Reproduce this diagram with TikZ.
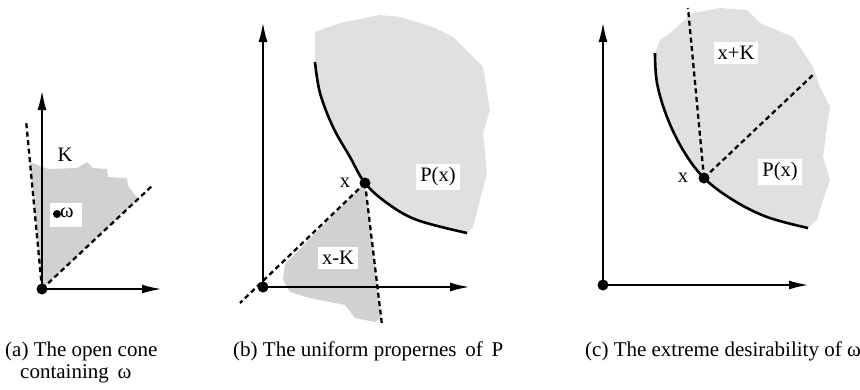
\documentclass[tikz,border=0pt]{standalone}
\usepackage{fontspec}
\setmainfont{Liberation Serif}
\usetikzlibrary{arrows.meta}
\begin{document}
\begin{tikzpicture}[x=1pt,y=-1pt,
  axis/.style={line width=2.4pt,-{Latex[length=20pt,width=9pt]}},
  dsh/.style={line width=2.3pt,dash pattern=on 5pt off 3.5pt},
  crv/.style={line width=2.6pt},
  dotp/.style={circle,fill=black,inner sep=0pt,minimum size=11pt},
  lbl/.style={font=\fontsize{20.5}{24}\selectfont,inner sep=0pt},
  wlbl/.style={lbl,fill=white,inner sep=4pt},
  captxt/.style={font=\fontsize{21}{25}\selectfont,inner sep=0pt,anchor=base west},
  shadeA/.style={fill=gray!36},
  shadeB/.style={fill=gray!24}]
\useasboundingbox (0,0) rectangle (860,389);
% ---------------- panel (a)
\coordinate (oa) at (42,289);
\coordinate (a1) at (26,120);
\coordinate (a2) at (153,185);
\fill[shadeA] (oa) -- (30,162) -- (48,169) -- (77,168) -- (87,162) -- (93,168) -- (107,169)
  -- (108,177) -- (127,178) -- (128,186) -- (138,199) -- cycle;
\node[wlbl,minimum width=32pt,minimum height=24pt] (wbox) at (66,215) {};
\node[lbl] (K) at (65,155) {K};
\node[dotp,minimum size=8pt] (om) at (57,214) {};
\node[lbl,anchor=west] (oml) at (60,213) {ω};
\draw[dsh] (oa) -- (a1);
\draw[dsh] (oa) -- (a2);
\coordinate (ay) at (42,90);
\coordinate (ax) at (162,289);
\draw[axis] (oa) -- (ay);
\draw[axis] (oa) -- (ax);
\node[dotp] (oad) at (oa) {};
% ---------------- panel (b)
\coordinate (ob) at (263,287);
\coordinate (xb) at (365,183);
\fill[shadeB] (315,32) -- (340,23) -- (380,15) -- (400,17) -- (433,27) -- (453,37) -- (483,67)
  -- (490,110) -- (483,133) -- (487,173) -- (480,200) -- (473,227) -- (467,233)
  -- (417,220) -- (387,203) -- (365,183) -- (350,157) -- (333,127) -- (320,93) -- (315,62) -- cycle;
\fill[shadeA] (xb) -- (285,264) -- (283,280) -- (290,292) -- (310,298) -- (345,305) -- (355,318)
  -- (375,322) -- (381,318) -- cycle;
\node[wlbl] (Pb) at (438,177) {P(x)};
\node[wlbl] (xKb) at (338,258) {x-K};
\draw[crv] plot[smooth,tension=0.6] coordinates {(315,62) (320,93) (333,127) (350,157) (365,183) (387,203) (417,220) (467,233)};
\coordinate (b1) at (240,303);
\coordinate (b2) at (382,325);
\draw[dsh] (xb) -- (b1);
\draw[dsh] (xb) -- (b2);
\coordinate (by) at (263,22);
\coordinate (bx) at (470,287);
\draw[axis] (ob) -- (by);
\draw[axis] (ob) -- (bx);
\node[dotp] (obd) at (ob) {};
\node[dotp] (xbd) at (xb) {};
\node[lbl] (xbl) at (345,183) {x};
% ---------------- panel (c)
\coordinate (oc) at (603,285);
\coordinate (xc) at (704,178);
\fill[shadeB] (660,40) -- (670,33) -- (693,13) -- (720,8) -- (747,10) -- (760,23) -- (793,37) -- (813,67)
  -- (820,87) -- (830,107) -- (827,127) -- (823,157) -- (830,180) -- (823,200) -- (817,220) -- (808,228)
  -- (767,217) -- (733,200) -- (704,178) -- (683,150) -- (667,117) -- (657,83) -- (655,53) -- cycle;
\node[wlbl] (xKc) at (736,53) {x+K};
\node[wlbl] (Pc) at (780,172) {P(x)};
\draw[crv] plot[smooth,tension=0.6] coordinates {(655,53) (657,83) (667,117) (683,150) (704,178) (733,200) (767,217) (808,228)};
\coordinate (c1) at (688,8);
\coordinate (c2) at (815,73);
\draw[dsh] (xc) -- (c1);
\draw[dsh] (xc) -- (c2);
\coordinate (cy) at (603,22);
\coordinate (cx) at (809,285);
\draw[axis] (oc) -- (cy);
\draw[axis] (oc) -- (cx);
\node[dotp] (ocd) at (oc) {};
\node[dotp] (xcd) at (xc) {};
\node[lbl] (xcl) at (683,178) {x};
% ---------------- captions
\node[captxt] (capa) at (5,356) {(a) The open cone};
\node[captxt] (capa2) at (20,378) {containing \,ω};
\node[captxt] (capb) at (233,356) {(b) The uniform propernes \,of \,P};
\node[captxt] (capc) at (585,356) {(c) The extreme desirability of ω};
\end{tikzpicture}
\end{document}
